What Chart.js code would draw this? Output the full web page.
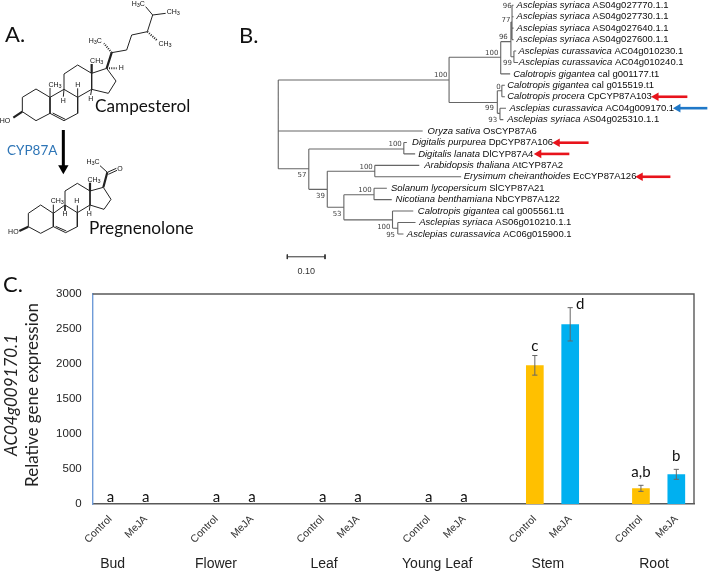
<!DOCTYPE html>
<html>
<head>
<meta charset="utf-8">
<script src="https://cdn.jsdelivr.net/npm/chart.js@4"></script>
<style>
html, body { margin: 0; padding: 0; background: #fff; width: 709px; height: 572px; overflow: hidden; }
canvas { position: absolute; display: block; filter: blur(0.3px); }
#molecules { left: 0; top: 0; }
#tree { left: 230px; top: 0; }
#bars { left: 0; top: 270px; }
</style>
</head>
<body>
<canvas id="molecules" width="230" height="275" style="width:230px;height:275px"></canvas>
<canvas id="tree" width="479" height="280" style="width:479px;height:280px"></canvas>
<canvas id="bars" width="709" height="302" style="width:709px;height:302px"></canvas>
<script>
// panel C
const slotLabels = ['Control','MeJA','','Control','MeJA','','Control','MeJA','','Control','MeJA','','Control','MeJA','','Control','MeJA'];
const expression = [0,0,null,0,0,null,0,0,null,0,0,null,1981,2567,null,224,424];
const expressionErr = [0,0,null,0,0,null,0,0,null,0,0,null,140,238,null,43,71];
const sigLetters = ['a','a','','a','a','','a','a','','a','a','','c','d','','a,b','b'];
const groupNames = ['Bud','Flower','Leaf','Young Leaf','Stem','Root'];
const yTicks = [0,500,1000,1500,2000,2500,3000];

// panel B, x = substitutions per site, y = leaf row
const leafGenus = ['Asclepias syriaca','Asclepias syriaca','Asclepias syriaca','Asclepias syriaca','Asclepias curassavica','Asclepias curassavica','Calotropis gigantea','Calotropis gigantea','Calotropis procera','Asclepias curassavica','Asclepias syriaca','Oryza sativa','Digitalis purpurea','Digitalis lanata','Arabidopsis thaliana','Erysimum cheiranthoides','Solanum lycopersicum','Nicotiana benthamiana','Calotropis gigantea','Asclepias syriaca','Asclepias curassavica'];
const leafGene = ['AS04g027770.1.1','AS04g027730.1.1','AS04g027640.1.1','AS04g027600.1.1','AC04g010230.1','AC04g010240.1','cal g001177.t1','cal g015519.t1','CpCYP87A103','AC04g009170.1','AS04g025310.1.1','OsCYP87A6','DpCYP87A106','DlCYP87A4','AtCYP87A2','EcCYP87A126','SlCYP87A21','NbCYP87A122','cal g005561.t1','AS06g010210.1.1','AC06g015900.1'];
const leafStart = [0.632,0.632,0.632,0.632,0.637,0.638,0.623,0.607,0.607,0.613,0.607,0.396,0.355,0.371,0.387,0.492,0.299,0.311,0.370,0.374,0.341];
const hBranches = [[0,0.453,6.54],[0,0.383,11],[0,0.081,14.3],[0.453,0.590,4.55],[0.453,0.581,8.5],[0.590,0.617,3.18],[0.590,0.615,6],[0.617,0.620,1.46],
  [0.620,0.624,0],[0.620,0.624,1],[0.620,0.624,2],[0.620,0.624,3],[0.617,0.625,4.5],[0.625,0.631,4],[0.625,0.636,5],[0.581,0.593,7.47],[0.581,0.588,9.45],
  [0.593,0.601,7],[0.593,0.601,8],[0.588,0.604,9],[0.588,0.597,10],[0.081,0.333,12.57],[0.333,0.341,12],[0.333,0.363,13],[0.081,0.130,16.1],[0.130,0.256,14.52],
  [0.256,0.374,14],[0.256,0.485,15],[0.130,0.174,17.67],[0.174,0.254,16.57],[0.254,0.288,16],[0.254,0.301,17],[0.174,0.303,18.77],[0.303,0.358,18],[0.303,0.317,19.5],[0.317,0.364,19],[0.317,0.332,20]];
const vBranches = [[0,6.54,14.3],[0.453,4.55,8.5],[0.590,3.18,6],[0.617,1.46,4.5],[0.620,0,3],[0.625,4,5],[0.581,7.47,9.45],[0.593,7,8],[0.588,9,10],
  [0.081,12.57,16.1],[0.333,12,13],[0.130,14.52,17.67],[0.256,14,15],[0.174,16.57,18.77],[0.254,16,17],[0.303,18,19.5],[0.317,19,20]];
const bootstrap = [['100',0.431,6.12],['96',0.607,0.06],['77',0.604,1.29],['96',0.597,2.8],['100',0.566,4.2],['99',0.608,5.07],['0',0.584,7.12],['99',0.560,9.01],['93',0.569,10.03],
  ['100',0.310,12.16],['100',0.233,14.15],['100',0.230,16.13],['100',0.280,19.37],['95',0.298,20.1],['57',0.063,14.85],['39',0.112,16.66],['53',0.156,18.23]];
const redArrows = [[1.002,1.085,8],[0.740,0.823,12.02],[0.691,0.772,13],[0.960,1.040,15]];
const blueArrows = [[1.060,1.138,9]];
const scaleBar = [0.024,0.124,22];

// panel A, bonds as x1,y1,x2,y2 in sketch units
const campesterolBonds = [[67,335,67,292],[67,292,108,267],[108,267,150,292],[150,292,150,340],[150,340,108,362],[108,362,67,335],
  [150,292,192,268],[192,268,233,292],[233,292,233,340],[233,340,192,362],[192,362,150,340],[158,339,196,358],
  [192,268,192,222],[192,222,233,195],[233,195,275,220],[275,220,275,268],[275,268,233,292],
  [275,220,320,205],[320,205,348,243],[348,243,325,280],[325,280,275,268],
  [335,158,380,150],[380,150,395,105],[395,105,442,95],[442,95,458,45],[458,45,497,40],[458,45,437,20],
  [192,268,190,290],[233,292,233,265],[275,268,272,285],[150,292,150,264]];
const campesterolWedges = [[67,335,40,353],[275,220,275,192],[320,205,335,158]];
const campesterolHashes = [[320,205,350,205],[335,158,312,130],[442,95,470,120]];
const pregnenoloneBonds = [[85,680,85,640],[85,640,122,615],[122,615,160,640],[160,640,160,680],[160,680,122,700],[122,700,85,680],
  [160,640,195,615],[195,615,232,638],[232,638,232,680],[232,680,197,698],[197,698,160,680],[167,679,199,693],
  [195,615,195,573],[195,573,232,550],[232,550,270,573],[270,573,270,615],[270,615,232,638],
  [270,573,310,562],[310,562,333,598],[333,598,312,628],[312,628,270,615],
  [322,517,300,497],[322,517,349,505],[325,523,351,511],
  [195,615,195,632],[232,638,232,616],[270,615,268,632],[160,640,160,614]];
const pregnenoloneWedges = [[85,680,58,693],[270,573,270,548],[310,562,322,517]];
const moleculeLabels = [['HO',15,362],['CH3',290,182],['CH3',165,255],['H',190,302],['H',233,255],['H',272,298],['H',364,205],['H3C',286,122],['CH3',520,37],['H3C',415,13],['CH3',495,132],
  ['HO',40,697],['CH3',282,540],['CH3',172,603],['H',195,643],['H',230,603],['H',268,643],['H3C',279,487],['O',360,508]];
const reactionArrow = [[190,390],[190,505]];

const segments = bonds => bonds.flatMap(b => [{x:b[0],y:b[1]},{x:b[2],y:b[3]},{x:NaN,y:NaN}]);
const hiddenLinear = (min, max, reverse) => ({ type:'linear', display:false, min, max, reverse:!!reverse });
const quiet = { legend:{display:false}, tooltip:{enabled:false} };
const INK = '#111';

function bondSet(bonds, width, dash) {
  return { data:segments(bonds), showLine:true, spanGaps:false, borderColor:'#222', borderWidth:width, borderDash:dash||[], pointRadius:0 };
}

function arrowSet(tipX, tailX, y, color) {
  return { data:[{x:tipX,y},{x:tailX,y}], showLine:true, borderColor:color, borderWidth:2.6, pointRadius:[5,0], pointStyle:'triangle',
    pointRotation:270, pointBackgroundColor:color, pointBorderWidth:0 };
}

// text with digits set as subscripts
function chemText(ctx, x, y, s) {
  const parts = s.match(/\d|\D+/g);
  let w = 0;
  parts.forEach(p => { ctx.font = (/\d/.test(p) ? '5.5px' : '7px') + ' "Liberation Sans"'; w += ctx.measureText(p).width; });
  let cx = x - w / 2;
  ctx.textAlign = 'left'; ctx.textBaseline = 'middle';
  parts.forEach(p => {
    const sub = /\d/.test(p);
    ctx.font = (sub ? '5.5px' : '7px') + ' "Liberation Sans"';
    ctx.fillText(p, cx, sub ? y + 1.5 : y);
    cx += ctx.measureText(p).width;
  });
}

new Chart(document.getElementById('molecules'), {
  type:'scatter',
  data:{ datasets:[
    bondSet(campesterolBonds, 1),
    bondSet(campesterolWedges, 2.2),
    bondSet(campesterolHashes, 2, [1,1.3]),
    bondSet(pregnenoloneBonds, 1),
    bondSet(pregnenoloneWedges, 2.2),
    { data:reactionArrow.map(p => ({x:p[0],y:p[1]})), showLine:true, borderColor:'#000', borderWidth:3, pointRadius:[0,6], pointStyle:'triangle', pointRotation:180, pointBackgroundColor:'#000', pointBorderWidth:0 }
  ]},
  options:{ responsive:false, animation:false, events:[], layout:{padding:0, autoPadding:false}, plugins:quiet,
    scales:{ x:hiddenLinear(0,690), y:hiddenLinear(0,825,true) } },
  plugins:[{ id:'moleculeText', afterDraw(c) {
    const ctx = c.ctx, sx = c.scales.x, sy = c.scales.y;
    ctx.save();
    ctx.fillStyle = INK;
    moleculeLabels.forEach(l => chemText(ctx, sx.getPixelForValue(l[1]), sy.getPixelForValue(l[2]), l[0]));
    ctx.textBaseline = 'middle'; ctx.textAlign = 'left';
    ctx.fillStyle = '#111';
    ctx.font = '22px Lato'; ctx.fillText('A.', 5, 35);
    ctx.font = '17.2px Lato';
    ctx.fillText('Campesterol', 95, 106);
    ctx.fillText('Pregnenolone', 89, 228);
    ctx.fillStyle = '#2E75B6';
    ctx.font = '13.5px Lato'; ctx.fillText('CYP87A', 7, 151);
    ctx.restore();
  }}]
});

new Chart(document.getElementById('tree'), {
  type:'scatter',
  data:{ datasets:[
    { data:segments(hBranches.map(h => [h[0],h[2],h[1],h[2]]).concat(vBranches.map(v => [v[0],v[1],v[0],v[2]]))), showLine:true, spanGaps:false, borderColor:'#666', borderWidth:1.1, pointRadius:0 },
    { data:segments([[scaleBar[0],scaleBar[2],scaleBar[1],scaleBar[2]],[scaleBar[0],scaleBar[2]-0.2,scaleBar[0],scaleBar[2]+0.2],[scaleBar[1],scaleBar[2]-0.2,scaleBar[1],scaleBar[2]+0.2]]), showLine:true, spanGaps:false, borderColor:'#333', borderWidth:1, pointRadius:0 },
    ...redArrows.map(a => arrowSet(a[0],a[1],a[2],'#E8131B')),
    ...blueArrows.map(a => arrowSet(a[0],a[1],a[2],'#1F78C8'))
  ]},
  options:{ responsive:false, animation:false, events:[], layout:{padding:0, autoPadding:false}, plugins:quiet,
    scales:{ x:hiddenLinear(-0.128,1.1424), y:hiddenLinear(-0.4637,24.03,true) } },
  plugins:[{ id:'treeText', afterDraw(c) {
    const ctx = c.ctx, sx = c.scales.x, sy = c.scales.y;
    ctx.save();
    ctx.textBaseline = 'middle'; ctx.textAlign = 'left'; ctx.fillStyle = '#0c0c0c';
    leafGenus.forEach((g,i) => {
      const x = sx.getPixelForValue(leafStart[i]), y = sy.getPixelForValue(i);
      ctx.font = 'italic 9.5px "Liberation Sans"';
      ctx.fillText(g, x, y);
      const w = ctx.measureText(g + ' ').width;
      ctx.font = '9.5px "Liberation Sans"';
      ctx.fillText(leafGene[i], x + w, y);
    });
    ctx.fillStyle = '#444'; ctx.textAlign = 'center';
    ctx.font = '7px "DejaVu Sans"';
    bootstrap.forEach(b => ctx.fillText(b[0], sx.getPixelForValue(b[1]), sy.getPixelForValue(b[2])));
    ctx.fillStyle = '#333';
    ctx.font = '9px "Liberation Sans"';
    ctx.fillText('0.10', sx.getPixelForValue((scaleBar[0]+scaleBar[1])/2), sy.getPixelForValue(scaleBar[2]+1.31));
    ctx.fillStyle = '#111'; ctx.textAlign = 'left';
    ctx.font = '22px Lato'; ctx.fillText('B.', 9, 36);
    ctx.restore();
  }}]
});

const barColors = slotLabels.map(l => l === 'Control' ? '#FFC000' : '#00B0F0');
const groupSlots = [0.065,2.985,6.04,9.24,12.37,15.37];
const errorAndLabels = { id:'errorAndLabels', afterDatasetsDraw(c) {
  const ctx = c.ctx, sx = c.scales.x, sy = c.scales.y, a = c.chartArea;
  ctx.save();
  // frame top and right
  ctx.strokeStyle = '#595959'; ctx.lineWidth = 1.4;
  ctx.beginPath(); ctx.moveTo(a.left, a.top); ctx.lineTo(a.right, a.top); ctx.lineTo(a.right, a.bottom); ctx.stroke();
  // error bars
  ctx.strokeStyle = '#666'; ctx.lineWidth = 1;
  expression.forEach((v,i) => {
    if (!v) return;
    const x = sx.getPixelForValue(i), hi = sy.getPixelForValue(v + expressionErr[i]), lo = sy.getPixelForValue(v - expressionErr[i]);
    ctx.beginPath();
    ctx.moveTo(x, hi); ctx.lineTo(x, lo);
    ctx.moveTo(x - 2.6, hi); ctx.lineTo(x + 2.6, hi);
    ctx.moveTo(x - 2.6, lo); ctx.lineTo(x + 2.6, lo);
    ctx.stroke();
  });
  // significance letters
  ctx.fillStyle = '#111'; ctx.textAlign = 'center'; ctx.textBaseline = 'middle';
  ctx.font = '15px Lato';
  sigLetters.forEach((s,i) => {
    if (!s) return;
    const top = sy.getPixelForValue((expression[i] || 0) + (expressionErr[i] || 0));
    const dx = s === 'd' ? 10 : 0;
    const lift = s === 'd' ? 3 : (s === 'c' ? 9 : (expression[i] ? 13 : 7));
    ctx.fillText(s, sx.getPixelForValue(i) + dx, top - lift);
  });
  // tissue names
  ctx.fillStyle = '#222';
  ctx.font = '14px "Liberation Sans"';
  groupNames.forEach((g,i) => ctx.fillText(g, sx.getPixelForValue(groupSlots[i]), 294));
  // y axis title, two lines
  ctx.fillStyle = '#222';
  ctx.save(); ctx.translate(12, 125); ctx.rotate(-Math.PI/2);
  ctx.font = 'italic 17px Lato'; ctx.fillText('AC04g009170.1', 0, 0);
  ctx.restore();
  ctx.save(); ctx.translate(33, 125); ctx.rotate(-Math.PI/2);
  ctx.font = '17px Lato'; ctx.fillText('Relative gene expression', 0, 0);
  ctx.restore();
  ctx.fillStyle = '#111'; ctx.textAlign = 'left';
  ctx.font = '22px Lato'; ctx.fillText('C.', 3, 15);
  ctx.restore();
}};

new Chart(document.getElementById('bars'), {
  type:'bar',
  data:{ labels:slotLabels, datasets:[{ data:expression, backgroundColor:barColors, barPercentage:0.5, categoryPercentage:1 }] },
  options:{ responsive:false, animation:false, events:[], plugins:quiet,
    layout:{ padding:{ left:0, top:24, right:15, bottom:0 } },
    scales:{
      x:{ grid:{ display:false, drawTicks:false }, border:{ color:'#595959', width:1.4 },
        ticks:{ autoSkip:false, minRotation:45, maxRotation:45, padding:9, color:'#333', font:{ family:'"Liberation Sans"', size:10.5 } },
        afterFit(s) { s.height = 68; } },
      y:{ min:0, max:3000, grid:{ display:false, drawTicks:true, tickLength:4, tickColor:'#8a8a8a' }, border:{ color:'#6f9bd8', width:1.4 },
        afterBuildTicks(s) { s.ticks = yTicks.map(value => ({ value })); },
        ticks:{ padding:7, color:'#222', font:{ family:'"Liberation Sans"', size:11.5 }, callback:v => String(v) },
        afterFit(s) { s.width = 92.7; } }
    } },
  plugins:[errorAndLabels]
});
</script>
</body>
</html>
